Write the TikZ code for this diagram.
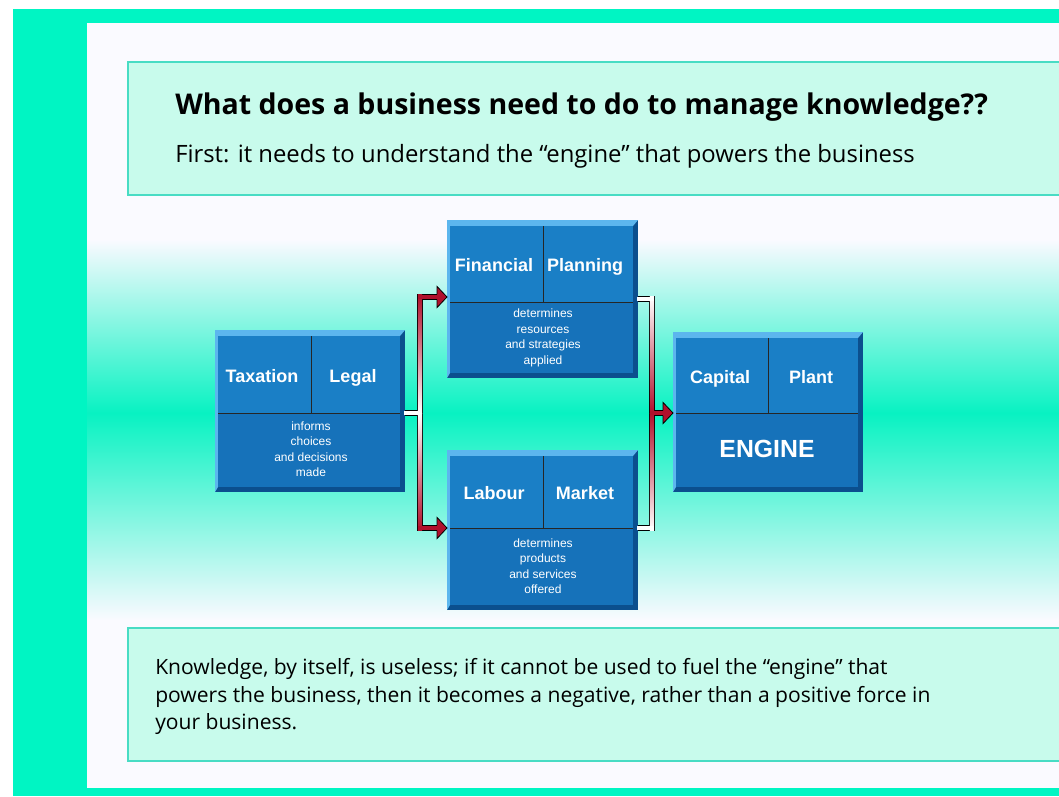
\documentclass[tikz,border=0pt]{standalone}
\usepackage{fontspec}
\setmainfont{Open Sans}
\newfontfamily\arialfont{Liberation Sans}
\usetikzlibrary{calc}
\definecolor{teal1}{HTML}{00F5C3}
\definecolor{mint}{HTML}{C8FBEC}
\definecolor{mintedge}{HTML}{48DCC4}
\definecolor{bandteal}{HTML}{08F2C2}
\definecolor{facetop}{HTML}{1A7FC6}
\definecolor{facebot}{HTML}{1672BA}
\definecolor{bevlight}{HTML}{5CB6EE}
\definecolor{bevdark}{HTML}{0B4F8E}
\definecolor{pipered}{HTML}{B0102C}
\tikzset{
  divline/.style={draw=black!85, line width=0.7pt},
  pipeout/.style={draw=black, line width=4.6pt},
  headstyle/.style={fill=pipered, draw=black, line width=0.6pt, line join=miter},
  boxlabel/.style={text=white, font=\arialfont\bfseries\fontsize{13.5}{16}\selectfont, inner sep=0pt, anchor=base},
  smalltext/.style={text=white, font=\arialfont\fontsize{9}{11.6}\selectfont, align=center, inner sep=0pt},
  infobox/.style={fill=mint, draw=mintedge, line width=1.2pt},
  notetext/.style={anchor=base west, inner sep=0pt, font=\fontsize{15.8}{20}\selectfont},
}
\newcommand\bizbox[7]{%
  \node[fill=bevdark, inner sep=0pt, outer sep=0pt, anchor=north west,
        minimum width={(#4-#2)*0.75pt}, minimum height={(#5-#3)*0.75pt}] (#1) at (#2,#3) {};
  \fill[bevlight] (#2,#3) -- (#4,#3) -- (#4-5,#3+6) -- (#2+3,#3+6) -- (#2+3,#5-5) -- (#2,#5) -- cycle;
  \fill[facetop] (#2+3,#3+6) rectangle (#4-5,#6);
  \fill[facebot] (#2+3,#6) rectangle (#4-5,#5-5);
  \draw[divline] (#2+3,#6) -- (#4-5,#6);
  \draw[divline] (#7,#3+6) -- (#7,#6);
}
\begin{document}
\begin{tikzpicture}[x=0.75pt,y=-0.75pt]
\useasboundingbox (0,0) rectangle (1059,796);
% background
\fill[white] (0,0) rectangle (1059,796);
\fill[teal1] (13,9) rectangle (1059,796);
\fill[white!98!blue] (87,23) rectangle (1059,788);
% middle band
\shade[top color=white!98!blue, bottom color=bandteal] (87,240) rectangle (1059,413);
\shade[top color=bandteal, bottom color=white!98!blue] (87,413) rectangle (1059,620);
% info boxes
\draw[infobox] (1062,62) -- (128,62) -- (128,195) -- (1062,195);
\draw[infobox] (1062,628) -- (128,628) -- (128,761) -- (1062,761);
\node[anchor=base west, inner sep=0pt, font=\bfseries\fontsize{21.4}{25}\selectfont] (title) at (175,114)
  {What does a business need to do to manage knowledge??};
\node[anchor=base west, inner sep=0pt, font=\fontsize{17.9}{20}\selectfont] (subtitle) at (175,162)
  {First: it needs to understand the “engine” that powers the business};
\node[notetext] (note1) at (155,674)
  {Knowledge, by itself, is useless; if it cannot be used to fuel the “engine” that};
\node[notetext] (note2) at (155,702)
  {powers the business, then it becomes a negative, rather than a positive force in};
\node[notetext] (note3) at (155,729)
  {your business.};
% boxes
\bizbox{tax}{215}{330}{405}{492}{413}{311}
\bizbox{fin}{447}{220}{638}{378}{302}{543}
\bizbox{lab}{447}{450}{638}{610}{528}{543}
\bizbox{cap}{673}{332}{863}{492}{413}{768}
% labels
\node[boxlabel] (taxl) at (262,382) {Taxation};
\node[boxlabel] (legl) at (353,382) {Legal};
\node[smalltext] (taxs) at (311,449) {informs\\choices\\and decisions\\made};
\node[boxlabel] (finl) at (494,271) {Financial};
\node[boxlabel] (plal) at (585,271) {Planning};
\node[smalltext] (fins) at (543,338) {determines\\resources\\and strategies\\applied};
\node[boxlabel] (labl) at (494,499) {Labour};
\node[boxlabel] (mktl) at (585,499) {Market};
\node[smalltext] (labs) at (543,566) {determines\\products\\and services\\offered};
\node[boxlabel] (capl) at (720,383) {Capital};
\node[boxlabel] (plnl) at (811,383) {Plant};
\node[boxlabel, font=\arialfont\bfseries\fontsize{18.6}{22}\selectfont] (engl) at (767,457) {ENGINE};
% connection points
\coordinate (tx) at (tax.east |- 0,413);
\coordinate (fx) at (fin.west |- 0,297);
\coordinate (lx) at (lab.west |- 0,528);
\coordinate (fr) at (fin.east |- 0,299);
\coordinate (lr) at (lab.east |- 0,528);
\coordinate (cx) at (cap.west |- 0,413);
% left pipe
\draw[pipeout] (tx) -- ++(16,0);
\draw[pipeout, line join=miter] ($(fx)+(-10,0)$) -| (420,413) |- ($(lx)+(-10,0)$);
\fill[white] ($(tx)+(-1,-2.2)$) rectangle (422.2,415.2);
\shade[top color=pipered, bottom color=white] (417.8,294.8) rectangle (422.2,413);
\shade[top color=white, bottom color=pipered] (417.8,413) rectangle (422.2,530.2);
\fill[pipered] (417.8,294.8) rectangle ($(fx)+(-9,2.2)$);
\fill[pipered] (417.8,525.8) rectangle ($(lx)+(-9,2.2)$);
\filldraw[headstyle] ($(fx)+(-10,-2.6)$) -- ++(0,-8) -- (fx) -- ++(-10,10.6) -- ++(0,-8);
\filldraw[headstyle] ($(lx)+(-10,-2.6)$) -- ++(0,-8) -- (lx) -- ++(-10,10.6) -- ++(0,-8);
% right pipe
\draw[pipeout, line join=miter] (fr) -| (652,413) |- (lr);
\draw[pipeout] (652,413) -- ($(cx)+(-10,0)$);
\shade[top color=white, bottom color=pipered] (649.8,296.8) rectangle (654.2,413);
\shade[top color=pipered, bottom color=white] (649.8,413) rectangle (654.2,530.2);
\fill[white] ($(fr)+(-1,-2.2)$) rectangle (654.2,301.2);
\fill[white] ($(lr)+(-1,-2.2)$) rectangle (654.2,530.2);
\fill[pipered] (649.8,410.8) rectangle ($(cx)+(-9,2.2)$);
\filldraw[headstyle] ($(cx)+(-10,-2.6)$) -- ++(0,-8) -- (cx) -- ++(-10,10.6) -- ++(0,-8);
\end{tikzpicture}
\end{document}
